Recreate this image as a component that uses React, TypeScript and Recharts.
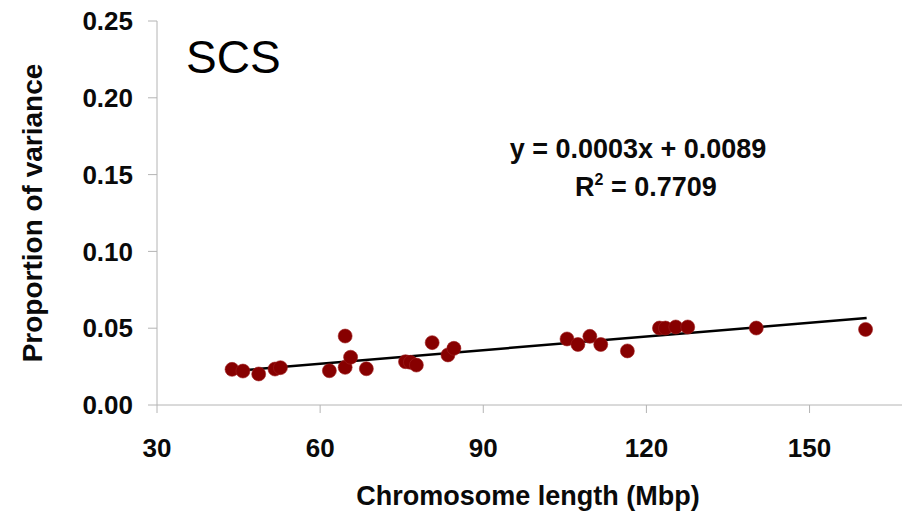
import React from 'react';
import { ScatterChart, Scatter, XAxis, YAxis } from 'recharts';

// chromosome length (Mbp) vs proportion of variance
const lengths = [43.8, 45.8, 48.7, 51.7, 52.7, 61.7, 64.6, 64.6, 65.6, 68.5, 75.7, 76.6, 77.7, 80.6, 83.5, 84.6,
  105.4, 107.4, 109.6, 111.6, 116.5, 122.4, 123.5, 125.4, 127.6, 140.2, 160.3];
const variance = [0.0232, 0.0221, 0.0202, 0.0234, 0.0243, 0.0223, 0.0449, 0.0245, 0.0311, 0.0236, 0.0282, 0.0278, 0.026,
  0.0406, 0.0326, 0.0369, 0.043, 0.0394, 0.0447, 0.0394, 0.0352, 0.0501, 0.0501, 0.0508, 0.0508, 0.0501, 0.0492];

// trendline end points as drawn
const trendX = [44, 160.5];
const trendY = [0.0221, 0.0566];

const xTicks = [30, 60, 90, 120, 150];
const yTicks = [0, 0.05, 0.1, 0.15, 0.2, 0.25];

const points = lengths.map((x, i) => ({ x, y: variance[i] }));
const trend = trendX.map((x, i) => ({ x, y: trendY[i] }));

const FONT = '"Liberation Sans", Arial, sans-serif';
const AXIS = '#b4b4b4';

const Dot = (props: any) => {
  const { cx, cy } = props;
  if (cx == null || cy == null) return null;
  return <circle cx={cx} cy={cy} r={7} fill="#870000" stroke="#a02020" strokeWidth={0.6} />;
};

const App: React.FC = () => {
  return (
    <div style={{ position: 'absolute', left: 0, top: 0, width: 909, height: 515, background: '#fff' }}>
      <ScatterChart width={909} height={515} margin={{ top: 21, right: 7, bottom: 0, left: 0 }}>
        <XAxis
          type="number"
          dataKey="x"
          domain={[30, 167]}
          ticks={xTicks}
          allowDataOverflow
          height={110}
          stroke={AXIS}
          tickSize={8}
          tickMargin={26}
          tick={{ fill: '#0a0a0a', fontSize: 26, fontWeight: 700, fontFamily: FONT }}
          label={{
            content: () => (
              <text x={528} y={505} textAnchor="middle" fill="#0a0a0a" fontSize={27} fontWeight={700} fontFamily={FONT}>
                Chromosome length (Mbp)
              </text>
            ),
          }}
        />
        <YAxis
          type="number"
          dataKey="y"
          domain={[0, 0.25]}
          ticks={yTicks}
          width={157}
          stroke={AXIS}
          tickSize={9}
          tickMargin={15}
          tickFormatter={(v: number) => v.toFixed(2)}
          tick={{ fill: '#0a0a0a', fontSize: 26, fontWeight: 700, fontFamily: FONT }}
          label={{
            content: () => (
              <text
                x={42}
                y={213}
                transform="rotate(-90 42 213)"
                textAnchor="middle"
                fill="#0a0a0a"
                fontSize={28}
                fontWeight={700}
                fontFamily={FONT}
              >
                Proportion of variance
              </text>
            ),
          }}
        />
        <Scatter
          data={trend}
          line={{ stroke: '#000', strokeWidth: 2.5 }}
          shape={() => null}
          isAnimationActive={false}
        />
        <Scatter data={points} shape={Dot} isAnimationActive={false} />
        <text x={186} y={73} fill="#000" fontSize={46} fontFamily={FONT}>
          SCS
        </text>
        <text x={638} y={158} textAnchor="middle" fill="#0a0a0a" fontSize={27} fontWeight={700} fontFamily={FONT}>
          y = 0.0003x + 0.0089
        </text>
        <text x={646} y={196} textAnchor="middle" fill="#0a0a0a" fontSize={27} fontWeight={700} fontFamily={FONT}>
          R
          <tspan dy={-11} fontSize={16}>2</tspan>
          <tspan dy={11}> = 0.7709</tspan>
        </text>
      </ScatterChart>
    </div>
  );
};

export default App;
